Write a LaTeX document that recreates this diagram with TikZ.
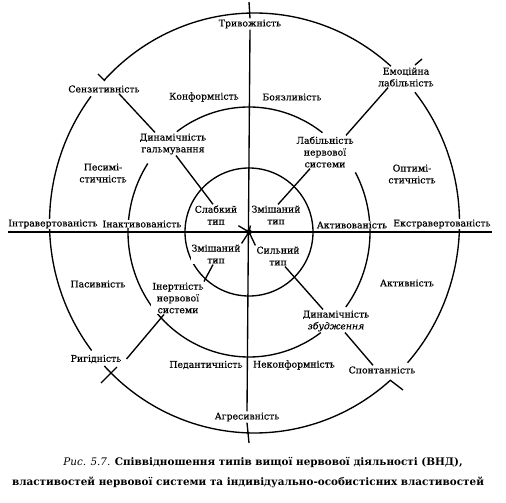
\documentclass[tikz,border=0pt]{standalone}
\usepackage{fontspec}
\setmainfont{DejaVu Serif}
\newfontfamily\lblfont[FakeBold=0.35]{DejaVu Serif}
\begin{document}
\begin{tikzpicture}[x=1bp,y=-1bp,
  lbl/.style={font=\lblfont\fontsize{9.3bp}{11.8bp}\selectfont, align=center, inner sep=1bp, fill=white},
  capt/.style={font=\fontsize{10.4bp}{12bp}\selectfont, inner sep=0pt},
  ring/.style={line width=1.35bp},
  conn/.style={line width=1.35bp}]
\useasboundingbox (0,0) rectangle (506,503);
\fill[white] (0,0) rectangle (506,503);

% outer ring (broken at the diagonal labels)
\draw[ring] plot[domain=222.8:311.7, samples=90, smooth] ({254.5+205*cos(\x)},{223+210*sin(\x)});
\draw[ring] plot[domain=321.5:401.7, samples=90, smooth] ({254.5+205*cos(\x)},{223+210*sin(\x)});
\draw[ring] plot[domain=48.5:137.1, samples=90, smooth] ({254.5+205*cos(\x)},{223+210*sin(\x)});
\draw[ring] plot[domain=142.6:217.1, samples=90, smooth] ({254.5+205*cos(\x)},{223+210*sin(\x)});

% middle ring
\draw[ring] plot[domain=233.4:307.4, samples=80, smooth] ({249+121*cos(\x)},{232+125*sin(\x)});
\draw[ring] plot[domain=331.5:396.9, samples=80, smooth] ({249+121*cos(\x)},{232+125*sin(\x)});
\draw[ring] plot[domain=53.6:213.2, samples=120, smooth] ({249+121*cos(\x)},{232+125*sin(\x)});

% inner ring
\coordinate (c) at (249,232);
\draw[ring] (c) circle[radius=64bp];

% labels
\node[lbl] (triv) at (250,24) {Тривожність};
\node[lbl] (sens) at (104,89) {Сензитивність};
\node[lbl] (konf) at (204,97) {Конформність};
\node[lbl] (boya) at (292,97) {Боязливість};
\node[lbl] (emo) at (406,77) {Емоційна\\лабільність};
\node[lbl] (dyng) at (173,144) {Динамічність\\гальмування};
\node[lbl] (lab) at (325,152) {Лабільність\\нервової\\системи};
\node[lbl] (pesi) at (103,173) {Песимі-\\стичність};
\node[lbl] (opti) at (412,174) {Оптимі-\\стичність};
\node[lbl] (slab) at (216,215) {Слабкий\\тип};
\node[lbl] (zmne) at (276,215) {Змішаний\\тип};
\node[lbl] (intr) at (53,224) {Інтравертованість};
\node[lbl] (inak) at (142,224) {Інактивованість};
\node[lbl] (akt) at (352,225) {Активованість};
\node[lbl] (ekst) at (442,224) {Екстравертованість};
\node[lbl] (zmsw) at (216,254) {Змішаний\\тип};
\node[lbl] (sil) at (278,256) {Сильний\\тип};
\node[lbl] (pasi) at (98,284) {Пасивність};
\node[lbl] (aktn) at (407,283) {Активність};
\node[lbl] (iner) at (178,298) {Інертність\\нервової\\системи};
\node[lbl] (dynz) at (336,321) {Динамічність\\\textit{збудження}};
\node[lbl] (rig) at (96,359) {Ригідність};
\node[lbl] (ped) at (206,365) {Педантичність};
\node[lbl] (nekon) at (294,365) {Неконформність};
\node[lbl] (spon) at (382,370) {Спонтанність};
\node[lbl] (agr) at (247,417) {Агресивність};

\node[capt] (cap1) at (263,462) {\textit{Рис. 5.7.} \textbf{Співвідношення типів вищої нервової діяльності (ВНД),}};
\node[capt] (cap2) at (248,482) {\textbf{властивостей нервової системи та індивідуально-особистісних властивостей}};

% axes
\coordinate (hl) at (8,232);
\coordinate (hr) at (492,232);
\coordinate (vt) at (249,2);
\coordinate (vb) at (249,443);
\draw[conn] (hl) -- (hr);
\draw[conn] (vt) -- (triv.north);
\draw[conn] (triv.south) -- (agr.north);
\draw[conn] (agr.south) -- (vb);

% centre
\fill (c) circle[radius=2.8bp];
\draw[conn] (c) -- (slab.south east);
\draw[conn] (c) -- (zmne.south west);
\draw[conn] (c) -- (zmsw.north east);
\draw[conn] (c) -- (sil.north west);

% NW diagonal
\draw[conn] ([xshift=-3bp]slab.north) -- ([xshift=3bp]dyng.south);
\draw[conn] ([xshift=-18bp]dyng.north) -- ([xshift=15bp]sens.south);
\coordinate (nwA) at (105,81);
\coordinate (nwB) at (98,74);
\draw[conn] (nwA) -- (nwB);

% NE diagonal
\draw[conn] ([xshift=2bp]zmne.north) -- ([xshift=-15bp]lab.south);
\draw[conn] ([xshift=21bp]lab.north) -- ([xshift=-18bp]emo.south);
\coordinate (neA) at (415,65);
\coordinate (neB) at (422,59);
\draw[conn] (neA) -- (neB);

% SW diagonal
\draw[conn] ([xshift=-3bp]zmsw.south) -- ([xshift=26bp]iner.north);
\draw[conn] ([xshift=-14bp]iner.south) -- ([xshift=4bp]rig.east);
\coordinate (swA) at (117,367);
\coordinate (swB) at (101,383);
\draw[conn] (swA) -- (swB);

% SE diagonal
\draw[conn] ([xshift=7bp]sil.south) -- ([xshift=-13bp]dynz.north);
\draw[conn] ([xshift=9bp]dynz.south) -- ([xshift=-9bp]spon.north);
\coordinate (seA) at (390,380);
\coordinate (seB) at (403,390);
\draw[conn] (seA) -- (seB);
\end{tikzpicture}
\end{document}
